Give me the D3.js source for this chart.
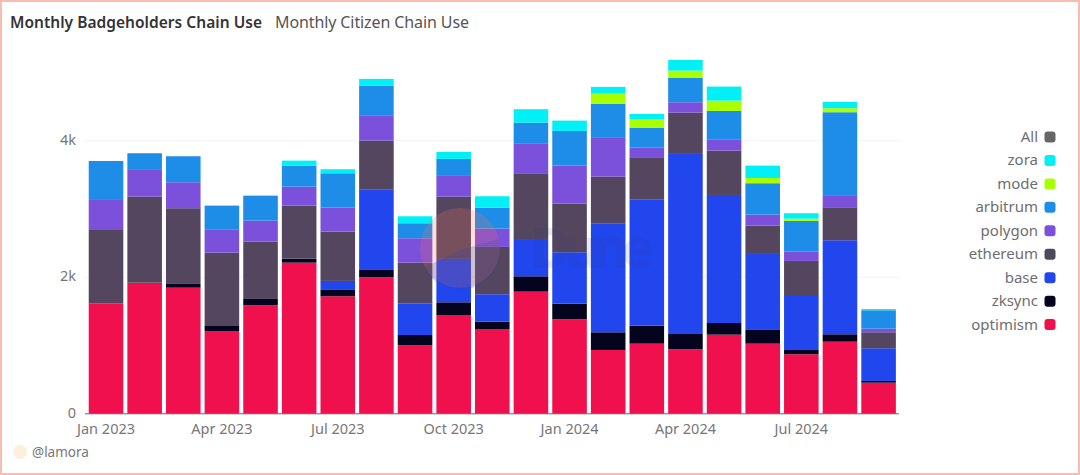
<!DOCTYPE html>
<html><head><meta charset="utf-8">
<script src="https://cdn.jsdelivr.net/npm/d3@7"></script>
<style>
html,body{margin:0;padding:0;background:#fff}
svg{display:block}
text{font-family:"Noto Sans","Open Sans",sans-serif}
</style></head><body><svg id="c" width="1080" height="475"></svg>
<script>
const months=["Jan 2023","Feb 2023","Mar 2023","Apr 2023","May 2023","Jun 2023","Jul 2023","Aug 2023","Sep 2023","Oct 2023","Nov 2023","Dec 2023","Jan 2024","Feb 2024","Mar 2024","Apr 2024","May 2024","Jun 2024","Jul 2024","Aug 2024","Sep 2024"];
const tickMonths=["Jan 2023","Apr 2023","Jul 2023","Oct 2023","Jan 2024","Apr 2024","Jul 2024"];
const optimism=[1619,1920,1847,1213,1590,2214,1721,2000,1003,1447,1242,1789,1384,935,1027,945,1159,1027,872,1056,456];
const zksync=[0,0,55,73,92,58,93,107,151,186,107,225,229,259,264,224,171,201,63,109,25];
const base=[0,0,0,0,0,0,132,1182,459,635,402,532,753,1597,1851,2637,1875,1113,805,1377,479];
const ethereum=[1073,1260,1109,1074,839,777,722,712,601,912,693,977,712,682,605,605,649,415,499,483,234];
const polygon=[440,392,380,343,308,278,352,372,357,304,268,440,557,578,151,152,167,161,136,166,53];
const arbitrum=[571,244,381,346,366,308,503,434,220,249,308,302,508,488,293,361,415,460,450,1226,269];
const mode=[0,0,0,0,0,0,0,0,0,0,0,0,0,151,123,102,151,77,33,59,0];
const zora=[0,0,0,0,0,73,59,98,102,102,166,196,151,98,78,157,205,181,79,92,19];
const seriesNames=["optimism","zksync","base","ethereum","polygon","arbitrum","mode","zora"];
const seriesValues=[optimism,zksync,base,ethereum,polygon,arbitrum,mode,zora];
const seriesColors=["#F0104E","#04041F","#2246EE","#54465E","#7B50DB","#1E8DE8","#AAFF00","#00F0F5"];
const legendNames=["All","zora","mode","arbitrum","polygon","ethereum","base","zksync","optimism"];
const legendColors=["#666666","#00F0F5","#AAFF00","#1E8DE8","#7B50DB","#4E4A58","#2246EE","#04041F","#F0104E"];
const yTicks=[0,2000,4000];

const svg=d3.select("#c");
const x=d3.scaleBand().domain(months).range([86.8,897.8]).paddingInner(0.105).paddingOuter(0.05);
const y=d3.scaleLinear().domain([0,5400]).range([413.8,45.1]);

svg.append("rect").attr("x",1).attr("y",1).attr("width",1078).attr("height",473).attr("fill","#fff").attr("stroke","#F8BDB0").attr("stroke-width",2);

svg.append("text").attr("x",10).attr("y",27.5).attr("font-size",15.5).attr("font-weight",600).attr("fill","#333").attr("textLength",252).text("Monthly Badgeholders Chain Use");
svg.append("text").attr("x",275).attr("y",27.5).attr("font-size",16).attr("fill","#555").attr("textLength",194).text("Monthly Citizen Chain Use");

svg.append("g").selectAll("line").data(yTicks.slice(1)).join("line")
  .attr("x1",84.5).attr("x2",900).attr("y1",d=>y(d)).attr("y2",d=>y(d)).attr("stroke","#F3F3F3");

const table=months.map((m,i)=>{const o={month:m};seriesNames.forEach((s,k)=>o[s]=seriesValues[k][i]);return o;});
const stacked=d3.stack().keys(seriesNames)(table);
svg.append("g").selectAll("g").data(stacked).join("g").attr("fill",(d,i)=>seriesColors[i])
  .selectAll("rect").data(d=>d.filter(p=>p[1]>p[0])).join("rect")
  .attr("x",d=>x(d.data.month)).attr("width",x.bandwidth())
  .attr("y",d=>y(d[1])).attr("height",d=>y(d[0])-y(d[1]));

// axes
const xAxis=d3.axisBottom(x).tickValues(tickMonths).tickSize(0).tickPadding(10);
const gx=svg.append("g").attr("transform","translate(0,413.8)").call(xAxis);
gx.select(".domain").remove();
gx.selectAll("text").attr("font-size",14.5).attr("fill","#777").style("font-family",'"Noto Sans"');
svg.append("line").attr("x1",85).attr("x2",899).attr("y1",413.8).attr("y2",413.8).attr("stroke","#6b6670").attr("stroke-width",1);

const yAxis=d3.axisLeft(y).tickValues(yTicks).tickSize(0).tickPadding(0)
  .tickFormat(d=>d===0?"0":(d/1000)+"k");
const gy=svg.append("g").attr("transform","translate(76,-1)").call(yAxis);
gy.select(".domain").remove();
gy.selectAll("text").attr("font-size",14.5).attr("fill","#777").style("font-family",'"Noto Sans"');

// legend
const lg=svg.append("g").selectAll("g").data(legendNames).join("g")
  .attr("transform",(d,i)=>`translate(0,${137+i*23.45})`);
lg.append("rect").attr("x",1044.5).attr("y",-5.5).attr("width",11).attr("height",11).attr("rx",3).attr("fill",(d,i)=>legendColors[i]);
lg.append("text").attr("x",1038).attr("y",5).attr("text-anchor","end").attr("font-size",15).attr("fill","#6e6e6e").text(d=>d);

// credit
svg.append("circle").attr("cx",20).attr("cy",452).attr("r",7).attr("fill","#FBF0DC");
svg.append("text").attr("x",32).attr("y",457).attr("font-size",13.5).attr("fill","#777").text("@lamora");

// watermark
const wm=svg.append("g");
wm.append("circle").attr("cx",460).attr("cy",248).attr("r",40).attr("fill","#F4705A").attr("opacity",0.22);
wm.append("path").attr("d",d3.arc()({innerRadius:0,outerRadius:40,startAngle:1.3,endAngle:4.25})).attr("transform","translate(460,250)").attr("fill","#2A4AB0").attr("opacity",0.22);
wm.append("text").attr("x",530).attr("y",268).attr("font-size",56).attr("font-weight",700).attr("fill","#2A3A7E").attr("opacity",0.1).attr("textLength",125).text("Dune");
</script></body></html>
